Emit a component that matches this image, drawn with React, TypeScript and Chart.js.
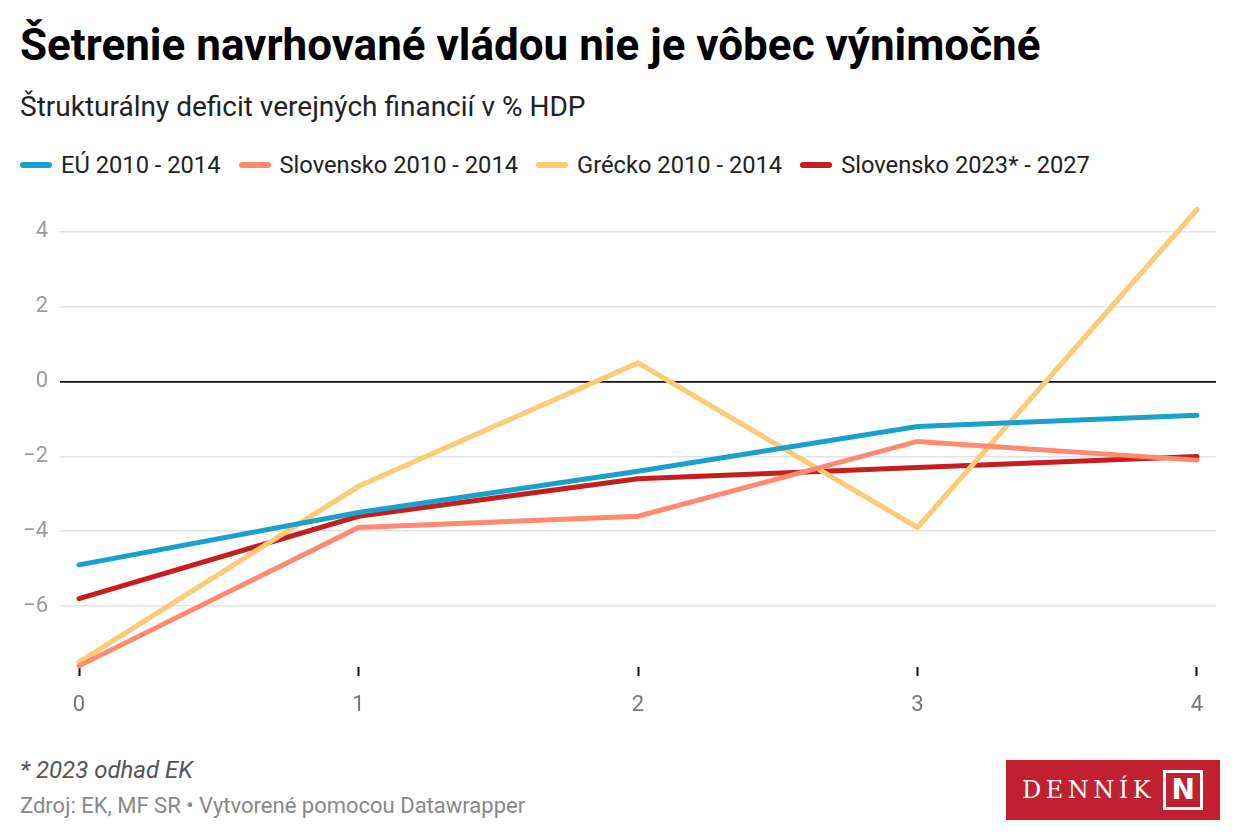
import React, { useEffect, useRef } from "react";
import { Chart, registerables } from "chart.js";

Chart.register(...registerables);

const xValues = [0, 1, 2, 3, 4];
const yTicks = [-6, -4, -2, 0, 2, 4];
const seriesNames = ["EÚ 2010 - 2014", "Slovensko 2010 - 2014", "Grécko 2010 - 2014", "Slovensko 2023* - 2027"];
const euValues = [-4.9, -3.5, -2.4, -1.2, -0.9];
const sk2010Values = [-7.6, -3.9, -3.6, -1.6, -2.1];
const grValues = [-7.5, -2.8, 0.5, -3.9, 4.6];
const sk2023Values = [-5.8, -3.6, -2.6, -2.3, -2.0];
const seriesColors = ["#18a1cd", "#ff8a70", "#ffca76", "#c71e1d"];

const FONT = "Roboto, 'Noto Sans', sans-serif";

function fmt(v: number): string {
  return v < 0 ? "\u2212" + Math.abs(v) : String(v);
}

function ChartCanvas() {
  const ref = useRef<HTMLCanvasElement | null>(null);
  useEffect(() => {
    if (!ref.current) return;
    const all = [euValues, sk2010Values, grValues, sk2023Values];
    const chart = new Chart(ref.current, {
      type: "line",
      data: {
        datasets: all.map((vals, i) => ({
          label: seriesNames[i],
          data: vals.map((v, j) => ({ x: xValues[j], y: v })),
          borderColor: seriesColors[i],
          backgroundColor: seriesColors[i],
          borderWidth: 5,
          pointRadius: 0,
          pointHoverRadius: 0,
          borderCapStyle: "round",
          borderJoinStyle: "miter",
          tension: 0,
          clip: false as any,
        })),
      },
      options: {
        animation: false,
        responsive: false,
        maintainAspectRatio: false,
        layout: { padding: { top: 16, right: 24, left: 0, bottom: 0 } },
        plugins: { legend: { display: false }, tooltip: { enabled: false } },
        scales: {
          x: {
            type: "linear",
            min: -0.068,
            max: 4.068,
            afterBuildTicks: (axis: any) => {
              axis.ticks = xValues.map((v) => ({ value: v }));
            },
            afterFit: (axis: any) => {
              axis.height = 63;
              axis.paddingLeft = 0;
              axis.paddingRight = 0;
            },
            border: { display: false },
            grid: {
              drawOnChartArea: false,
              drawTicks: true,
              tickLength: 9,
              tickWidth: 2,
              tickColor: "#111",
            },
            ticks: {
              color: "#777",
              font: { family: FONT, size: 22 },
              padding: 16,
              maxRotation: 0,
              callback: (v: any) => String(v),
            },
          },
          y: {
            type: "linear",
            min: -7.63,
            max: 4.693,
            afterBuildTicks: (axis: any) => {
              axis.ticks = yTicks.map((v) => ({ value: v }));
            },
            afterFit: (axis: any) => {
              axis.width = 60;
              axis.paddingTop = 0;
              axis.paddingBottom = 0;
            },
            border: { display: false },
            grid: {
              drawTicks: false,
              lineWidth: (ctx: any) => (ctx.tick && ctx.tick.value === 0 ? 1.8 : 1.5),
              color: (ctx: any) => (ctx.tick && ctx.tick.value === 0 ? "#111" : "#e3e3e3"),
            },
            ticks: {
              color: "#9a9a9a",
              font: { family: FONT, size: 22 },
              padding: 12,
              callback: (v: any) => fmt(Number(v)),
            },
          },
        },
      },
    });
    return () => chart.destroy();
  }, []);
  return <canvas ref={ref} width={1240} height={540} style={{ position: "absolute", left: 0, top: 190, width: 1240, height: 540 }} />;
}

export default function App() {
  return (
    <div style={{ position: "fixed", left: 0, top: 0, width: 1240, height: 840, background: "#fff", fontFamily: FONT, overflow: "hidden" }}>
      <div style={{ position: "absolute", left: 20, top: 19, fontSize: 44, fontWeight: 700, color: "#000", lineHeight: "52px", whiteSpace: "nowrap" }}>
        Šetrenie navrhované vládou nie je vôbec výnimočné
      </div>
      <div style={{ position: "absolute", left: 20, top: 91, fontSize: 28, color: "#222", lineHeight: "32px", whiteSpace: "nowrap" }}>
        Štrukturálny deficit verejných financií v % HDP
      </div>
      <div style={{ position: "absolute", left: 20, top: 150, display: "flex", alignItems: "center", fontSize: 23.7, color: "#222", lineHeight: "30px", whiteSpace: "nowrap" }}>
        {seriesNames.map((n, i) => (
          <div key={n} style={{ display: "flex", alignItems: "center", marginRight: 18 }}>
            <span style={{ display: "inline-block", width: 32, height: 6, borderRadius: 3, background: seriesColors[i], marginRight: 9 }} />
            <span>{n}</span>
          </div>
        ))}
      </div>
      <ChartCanvas />
      <div style={{ position: "absolute", left: 20, top: 755, fontSize: 24, fontStyle: "italic", color: "#555", lineHeight: "30px", whiteSpace: "nowrap" }}>
        * 2023 odhad EK
      </div>
      <div style={{ position: "absolute", left: 20, top: 792, fontSize: 22, color: "#888", lineHeight: "28px", whiteSpace: "nowrap" }}>
        Zdroj: EK, MF SR • Vytvorené pomocou Datawrapper
      </div>
      <div style={{ position: "absolute", left: 1006, top: 760, width: 214, height: 60, background: "#c0202f", display: "flex", alignItems: "center" }}>
        <span style={{ marginLeft: 16, fontFamily: "'DejaVu Serif', 'Liberation Serif', serif", fontSize: 24, color: "#fff", letterSpacing: 4.5, lineHeight: "26px" }}>
          DENNÍK
        </span>
        <span style={{ marginLeft: 8, width: 40, height: 40, border: "3px solid #fff", boxSizing: "border-box", display: "flex", alignItems: "center", justifyContent: "center", color: "#fff", fontFamily: "'DejaVu Sans', sans-serif", fontWeight: 700, fontSize: 28, lineHeight: "28px" }}>
          N
        </span>
      </div>
    </div>
  );
}
